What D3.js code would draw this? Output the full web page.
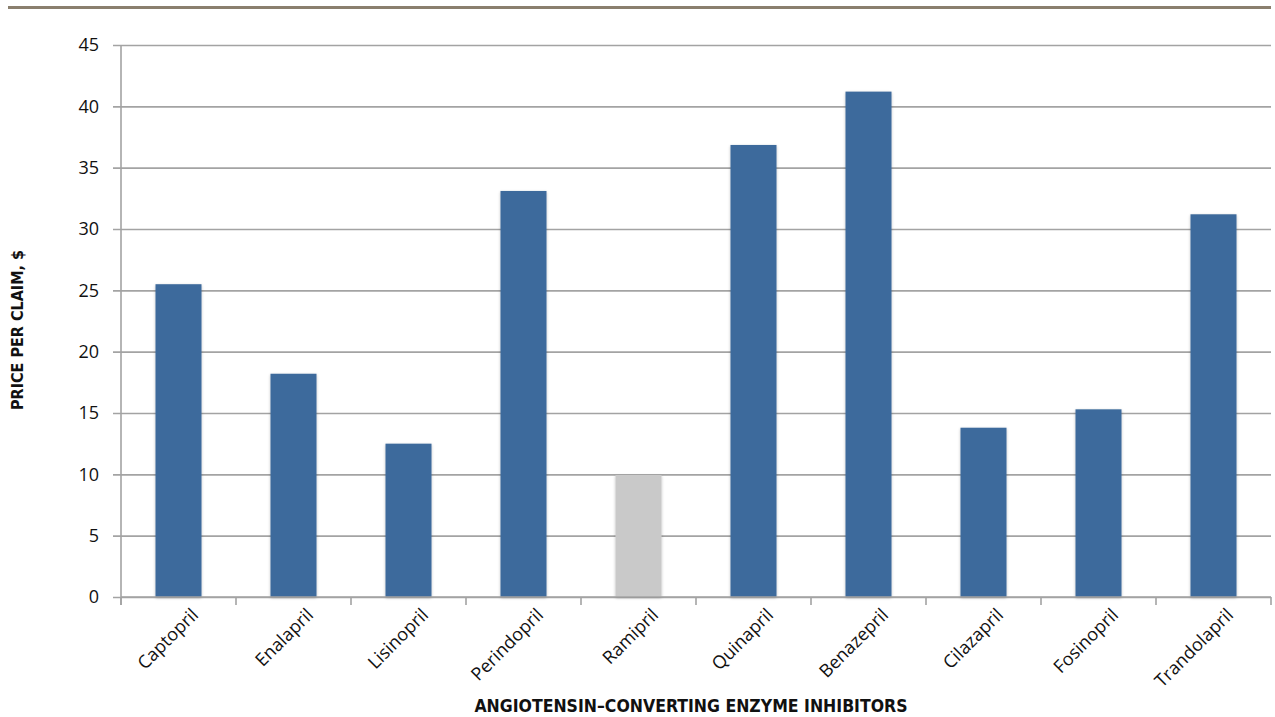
<!DOCTYPE html>
<html lang="en">
<head>
    <meta charset="UTF-8">
    <script src="https://d3js.org/d3.v7.min.js"></script>
    <style>
        body { margin: 0; background: #fff; }
        text { font-family: "Open Sans", "DejaVu Sans", sans-serif; }
    </style>
    <title>ACE inhibitors price per claim</title>
</head>
<body>
<script>
    // Chart data
    const drugs = ['Captopril', 'Enalapril', 'Lisinopril', 'Perindopril', 'Ramipril',
        'Quinapril', 'Benazepril', 'Cilazapril', 'Fosinopril', 'Trandolapril'];
    const prices = [25.5, 18.2, 12.5, 33.1, 9.95, 36.85, 41.2, 13.8, 15.3, 31.2];
    const yTicks = [0, 5, 10, 15, 20, 25, 30, 35, 40, 45];
    const highlighted = ['Ramipril'];

    const W = 1275, H = 717;
    const plotLeft = 121, plotRight = 1271, plotTop = 45, plotBottom = 597;

    const svg = d3.select('body').append('svg')
        .attr('width', W)
        .attr('height', H);

    // top rule
    svg.append('rect')
        .attr('x', 8).attr('y', 6)
        .attr('width', 1263).attr('height', 3)
        .attr('fill', '#8a7f6e');

    const x = d3.scaleBand()
        .domain(drugs)
        .range([plotLeft, plotRight])
        .paddingInner(0.6)
        .paddingOuter(0.3);

    const y = d3.scaleLinear()
        .domain([0, 45])
        .range([plotBottom, plotTop]);

    // gridlines + y ticks
    const yAxis = svg.append('g')
        .attr('transform', `translate(${plotLeft},0)`)
        .call(d3.axisLeft(y).tickValues(yTicks).tickSize(-(plotRight - plotLeft)).tickPadding(22));
    yAxis.select('.domain').remove();
    yAxis.selectAll('.tick line')
        .attr('x1', -8)
        .attr('stroke', '#a3a3a3')
        .attr('stroke-width', 1.6);
    yAxis.selectAll('.tick text')
        .attr('font-size', '18px')
        .attr('fill', '#111');

    // bar shadows
    const defs = svg.append('defs');
    const f = defs.append('filter').attr('id', 'sh')
        .attr('x', '-20%').attr('y', '-5%').attr('width', '140%').attr('height', '110%');
    f.append('feGaussianBlur').attr('in', 'SourceAlpha').attr('stdDeviation', 1.5).attr('result', 'b');
    f.append('feOffset').attr('in', 'b').attr('dx', 0).attr('dy', 1).attr('result', 'o');
    f.append('feComponentTransfer').attr('in', 'o').attr('result', 'o2')
        .append('feFuncA').attr('type', 'linear').attr('slope', 0.25);
    const m = f.append('feMerge');
    m.append('feMergeNode').attr('in', 'o2');
    m.append('feMergeNode').attr('in', 'SourceGraphic');

    // bars
    svg.selectAll('.bar')
        .data(drugs)
        .enter()
        .append('rect')
        .attr('class', 'bar')
        .attr('x', d => x(d))
        .attr('width', x.bandwidth())
        .attr('y', (d, i) => y(prices[i]))
        .attr('height', (d, i) => y(0) - y(prices[i]))
        .attr('fill', d => highlighted.includes(d) ? '#c9c9c9' : '#3e6b9c')
        .attr('filter', 'url(#sh)');

    // x axis
    const xAxis = svg.append('g')
        .attr('transform', `translate(0,${plotBottom})`)
        .call(d3.axisBottom(x).tickSize(0).tickPadding(12));
    xAxis.select('.domain').remove();
    xAxis.selectAll('.tick text')
        .attr('font-size', '18px')
        .attr('fill', '#111')
        .attr('text-anchor', 'end')
        .attr('dy', '0.35em')
        .attr('transform', 'translate(8,6) rotate(-45)');

    // axis lines
    svg.append('line')
        .attr('x1', plotLeft).attr('x2', plotRight)
        .attr('y1', plotBottom).attr('y2', plotBottom)
        .attr('stroke', '#a3a3a3').attr('stroke-width', 1.6);
    svg.append('line')
        .attr('x1', plotLeft).attr('x2', plotLeft)
        .attr('y1', plotTop).attr('y2', plotBottom + 8)
        .attr('stroke', '#a3a3a3').attr('stroke-width', 1.6);

    // category boundary ticks
    const step = x.step();
    svg.selectAll('.xtick')
        .data(d3.range(drugs.length + 1))
        .enter()
        .append('line')
        .attr('x1', i => plotLeft + i * step)
        .attr('x2', i => plotLeft + i * step)
        .attr('y1', plotBottom).attr('y2', plotBottom + 8)
        .attr('stroke', '#a3a3a3').attr('stroke-width', 1.6);

    // axis titles
    svg.append('text')
        .attr('x', 691).attr('y', 712)
        .attr('text-anchor', 'middle')
        .attr('font-size', '17.5px')
        .attr('font-weight', 'bold')
        .style('font-family', '"DejaVu Sans Condensed", "DejaVu Sans", sans-serif')
        .attr('fill', '#111')
        .text('ANGIOTENSIN–CONVERTING ENZYME INHIBITORS');

    svg.append('text')
        .attr('transform', 'translate(23,330) rotate(-90)')
        .attr('text-anchor', 'middle')
        .attr('font-size', '16px')
        .attr('font-weight', 'bold')
        .style('font-family', '"DejaVu Sans Condensed", "DejaVu Sans", sans-serif')
        .attr('fill', '#111')
        .text('PRICE PER CLAIM, $');
</script>
</body>
</html>
